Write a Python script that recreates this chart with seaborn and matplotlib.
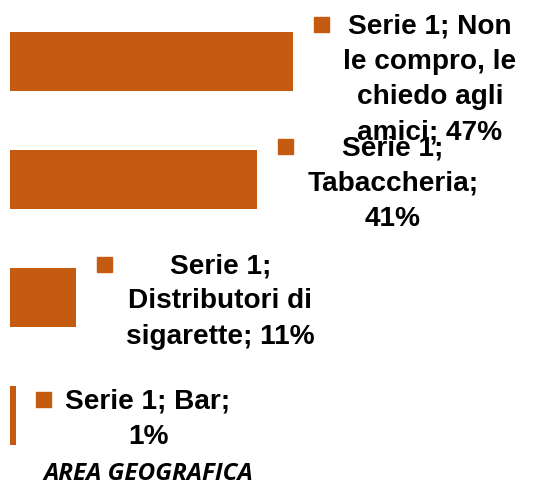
import matplotlib
matplotlib.use("Agg")
import matplotlib.pyplot as plt
import matplotlib.patches as mpatches
from matplotlib.transforms import IdentityTransform
import seaborn as sns
import pandas as pd

series_name = "Serie 1"
categories = ["Non le compro, le chiedo agli amici", "Tabaccheria",
              "Distributori di sigarette", "Bar"]
values = [47, 41, 11, 1]
# data labels as wrapped in the original chart
labels = ["Serie 1; Non\nle compro, le\nchiedo agli\namici; 47%",
          "Serie 1;\nTabaccheria;\n41%",
          "Serie 1;\nDistributori di\nsigarette; 11%",
          "Serie 1; Bar;\n1%"]
title = "AREA GEOGRAFICA"

bar_color = "#C55A11"
label_offsets = [(137, -17), (136, -3), (144, -3), (132, -3)]

df = pd.DataFrame({"categoria": categories, "valore": values})

sns.set_style("white")
W, H = 556, 485
fig = plt.figure(figsize=(W / 100, H / 100), dpi=100)
ax = fig.add_axes([10 / W, 9.5 / H, 546 / W, 472 / H])

sns.barplot(data=df, y="categoria", x="valore", orient="h", color=bar_color,
            saturation=1, width=0.5, ax=ax)
for p in ax.patches:
    p.set_edgecolor("none")

ax.set_xlim(0, 546 / 6.02)
ax.set_ylim(3.5, -0.5)
ax.axis("off")

texts = []
for i, (v, lab) in enumerate(zip(values, labels)):
    dx, dy = label_offsets[i]
    t = ax.annotate(lab, xy=(v, i), xytext=(dx, dy), textcoords="offset pixels",
                    ha="center", va="center", fontsize=20.2, fontweight="bold",
                    family="Liberation Sans", linespacing=1.45, color="black")
    texts.append(t)

fig.text(148 / W, 1 - 474 / H, title, ha="center", va="center",
         fontsize=17.5, fontstyle="italic", fontweight="bold",
         family="Open Sans", color="black")

fig.canvas.draw()
r = fig.canvas.get_renderer()
for t in texts:
    bb = t.get_window_extent(r)
    sq = 15
    rect = mpatches.Rectangle((bb.x0 - 14 - sq, bb.y1 - 4 - sq), sq, sq,
                              transform=IdentityTransform(), color=bar_color)
    fig.add_artist(rect)

fig.savefig("out.png", dpi=100)
